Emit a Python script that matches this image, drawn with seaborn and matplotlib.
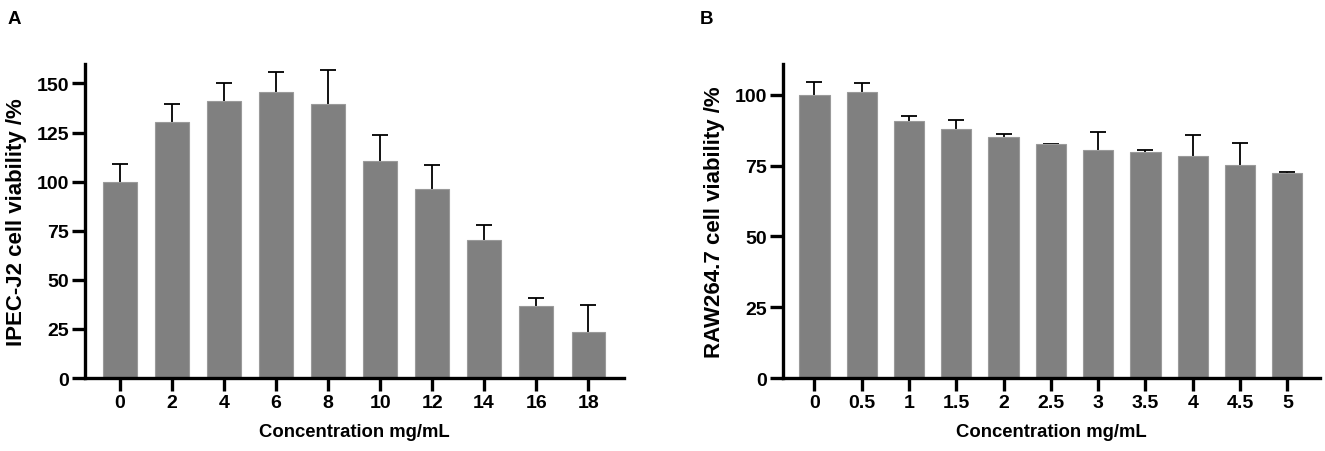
import matplotlib
matplotlib.use('Agg')
import matplotlib.pyplot as plt
import seaborn as sns
import numpy as np

# Panel A: IPEC-J2
conc_a = ['0', '2', '4', '6', '8', '10', '12', '14', '16', '18']
viab_a = [100, 130.5, 141, 145.5, 139.5, 110.5, 96.5, 70.5, 36.5, 23.5]
err_a = [9, 9, 9.5, 10.5, 17.5, 13.5, 12, 7.2, 4.5, 13.5]

# Panel B: RAW264.7
conc_b = ['0', '0.5', '1', '1.5', '2', '2.5', '3', '3.5', '4', '4.5', '5']
viab_b = [100, 101, 90.7, 88.1, 85.2, 82.6, 80.7, 79.9, 78.4, 75.2, 72.6]
err_b = [4.7, 3.2, 1.9, 3.2, 0.9, 0.2, 6.1, 0.8, 7.6, 8.0, 0.2]

sns.set_style('ticks')
fam = ['Liberation Sans', 'DejaVu Sans']
plt.rcParams['font.family'] = fam
plt.rcParams['font.weight'] = 'bold'
plt.rcParams['text.color'] = 'black'
plt.rcParams['axes.labelcolor'] = 'black'
plt.rcParams['xtick.color'] = 'black'
plt.rcParams['ytick.color'] = 'black'

fig = plt.figure(figsize=(13.25, 4.52), dpi=100)
ax_a = fig.add_axes([0.0642, 0.1615, 0.4068, 0.695])
ax_b = fig.add_axes([0.5907, 0.1615, 0.4055, 0.695])


def draw_panel(ax, cats, vals, errs, ylabel, ymax, yticks):
    pos = np.arange(len(cats))
    tops = np.add(vals, errs)
    # upper-only error bars: stem behind the bar, cap as a marker
    ax.errorbar(pos, vals, yerr=[np.zeros(len(errs)), errs], fmt='none',
                ecolor='black', elinewidth=1.3, capsize=0, zorder=0.5)
    ax.plot(pos, tops, ls='none', marker='_', ms=12, mew=1.3, color='black',
            zorder=0.5)
    sns.barplot(x=cats, y=vals, order=cats, color='#808080', saturation=1,
                width=0.64, edgecolor='#9a9a9a', linewidth=0.8, ax=ax, zorder=1)
    ax.set_xlim(-0.67, len(cats) - 1 + 0.69)
    ax.set_ylim(0, ymax)
    ax.set_yticks(yticks)
    sns.despine(ax=ax)
    for s in ['left', 'bottom']:
        ax.spines[s].set_linewidth(2.4)
        ax.spines[s].set_color('black')
    ax.tick_params(axis='both', width=2.4, length=9.5, color='black', pad=2,
                   labelcolor='black')
    for lab in ax.get_xticklabels() + ax.get_yticklabels():
        lab.set_fontsize(14)
        lab.set_fontweight('bold')
        lab.set_family(fam)
    ax.set_xlabel('Concentration mg/mL', fontsize=13.3, fontweight='bold',
                  family=fam, color='black', labelpad=9)
    ax.set_ylabel(ylabel, fontsize=16, fontweight='bold', family=fam,
                  color='black', labelpad=7)
    ax.grid(False)


draw_panel(ax_a, conc_a, viab_a, err_a, 'IPEC-J2 cell viability /%', 160,
           [0, 25, 50, 75, 100, 125, 150])
draw_panel(ax_b, conc_b, viab_b, err_b, 'RAW264.7 cell viability /%', 111,
           [0, 25, 50, 75, 100])

fig.text(0.006, 0.975, 'A', fontsize=13.5, fontweight='bold', va='top', ha='left')
fig.text(0.528, 0.975, 'B', fontsize=13.5, fontweight='bold', va='top', ha='left')

fig.savefig('out.png', dpi=100)
